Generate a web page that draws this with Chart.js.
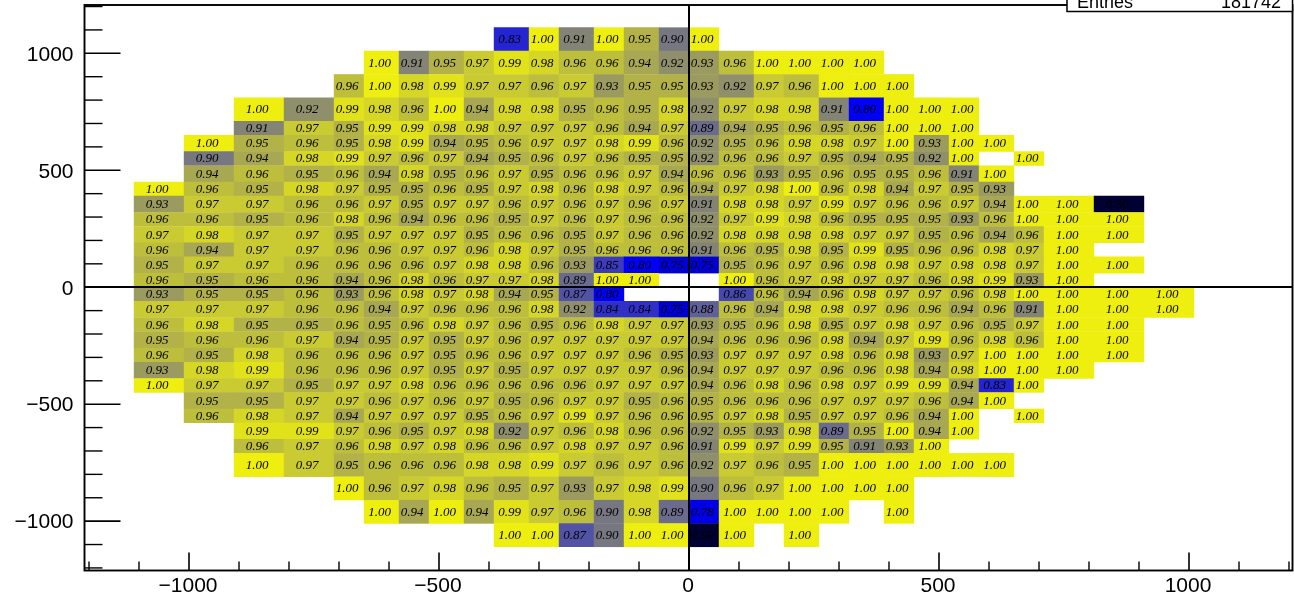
<!DOCTYPE html>
<html><head><meta charset="utf-8">
<style>html,body{margin:0;padding:0;background:#fff}canvas{display:block}</style>
<script src="https://cdn.jsdelivr.net/npm/chart.js@4/dist/chart.umd.min.js"></script>
</head><body><canvas id="c" width="1294" height="599"></canvas>
<script>
const xEdges=[-1110,-1010,-910,-810,-710,-650,-580,-520,-450,-390,-320,-260,-190,-130,-60,0,60,130,190,260,320,390,450,520,580,650,710,810,910,1010];
const yEdges=[1110,1010,910,810,710,650,580,520,450,390,320,260,190,130,60,0,-60,-130,-190,-260,-320,-390,-450,-520,-580,-650,-710,-810,-910,-1010,-1110];
const rowStart=[9,5,4,2,2,1,1,1,0,0,0,0,0,0,0,0,0,0,0,0,0,0,1,1,2,2,2,4,5,9];
const rowValues=[
[.83,1,.91,1,.95,.90,1],
[1,.91,.95,.97,.99,.98,.96,.96,.94,.92,.93,.96,1,1,1,1],
[.96,1,.98,.99,.97,.97,.96,.97,.93,.95,.95,.93,.92,.97,.96,1,1,1],
[1,.92,.99,.98,.96,1,.94,.98,.98,.95,.96,.95,.98,.92,.97,.98,.98,.91,.80,1,1,1],
[.91,.97,.95,.99,.99,.98,.98,.97,.97,.97,.96,.94,.97,.89,.94,.95,.96,.95,.96,1,1,1],
[1,.95,.96,.95,.98,.99,.94,.95,.96,.97,.97,.98,.99,.96,.92,.95,.96,.98,.98,.97,1,.93,1,1],
[.90,.94,.98,.99,.97,.96,.97,.94,.95,.96,.97,.96,.95,.95,.92,.96,.96,.97,.95,.94,.95,.92,1,null,1],
[.94,.96,.95,.96,.94,.98,.95,.96,.97,.95,.96,.96,.97,.94,.96,.96,.93,.95,.96,.95,.95,.96,.91,1],
[1,.96,.95,.98,.97,.95,.95,.96,.95,.97,.98,.96,.98,.97,.96,.94,.97,.98,1,.96,.98,.94,.97,.95,.93],
[.93,.97,.97,.96,.96,.97,.95,.97,.97,.96,.97,.96,.97,.96,.97,.91,.98,.98,.97,.99,.97,.96,.96,.97,.94,1,1,.50],
[.96,.96,.95,.96,.98,.96,.94,.96,.96,.95,.97,.96,.97,.96,.96,.92,.97,.99,.98,.96,.95,.95,.95,.93,.96,1,1,1],
[.97,.98,.97,.97,.95,.97,.97,.97,.95,.96,.96,.95,.97,.96,.96,.92,.98,.98,.98,.98,.97,.97,.95,.96,.94,.96,1,1],
[.96,.94,.97,.97,.96,.96,.97,.97,.96,.98,.97,.95,.96,.96,.96,.91,.96,.95,.98,.95,.99,.95,.96,.96,.98,.97,1],
[.95,.97,.97,.96,.96,.96,.96,.97,.98,.98,.96,.93,.85,.80,.75,.75,.95,.96,.97,.96,.98,.98,.97,.98,.98,.97,1,1],
[.96,.95,.96,.96,.94,.96,.98,.96,.97,.97,.98,.89,1,1,null,null,1,.96,.97,.98,.97,.97,.96,.98,.99,.93,1],
[.93,.95,.95,.96,.93,.96,.98,.97,.98,.94,.95,.87,.80,null,null,null,.86,.96,.94,.96,.98,.97,.97,.96,.98,1,1,1,1],
[.97,.97,.97,.96,.96,.94,.97,.96,.96,.96,.98,.92,.84,.84,.75,.88,.96,.94,.98,.98,.97,.96,.96,.94,.96,.91,1,1,1],
[.96,.98,.95,.95,.96,.95,.96,.98,.97,.96,.95,.96,.98,.97,.97,.93,.95,.96,.98,.95,.97,.98,.97,.96,.95,.97,1,1],
[.95,.96,.96,.97,.94,.95,.97,.95,.97,.96,.97,.97,.97,.97,.97,.94,.96,.96,.96,.98,.94,.97,.99,.96,.98,.96,1,1],
[.96,.95,.98,.96,.96,.96,.97,.95,.96,.96,.97,.97,.97,.96,.95,.93,.97,.97,.97,.98,.96,.98,.93,.97,1,1,1,1],
[.93,.98,.99,.96,.96,.96,.97,.95,.97,.95,.97,.97,.97,.97,.96,.94,.97,.97,.97,.96,.96,.98,.94,.98,1,1,1],
[1,.97,.97,.95,.97,.97,.98,.96,.96,.96,.96,.96,.97,.97,.97,.94,.96,.98,.96,.98,.97,.99,.99,.94,.83,1],
[.95,.95,.97,.97,.96,.97,.96,.97,.95,.96,.97,.97,.95,.96,.95,.96,.96,.96,.97,.97,.97,.96,.94,1],
[.96,.98,.97,.94,.97,.97,.97,.95,.96,.97,.99,.97,.96,.96,.95,.97,.98,.95,.97,.97,.96,.94,1,null,1],
[.99,.99,.97,.96,.95,.97,.98,.92,.97,.96,.98,.96,.96,.92,.95,.93,.98,.89,.95,1,.94,1],
[.96,.97,.96,.98,.97,.98,.96,.96,.97,.98,.97,.97,.96,.91,.99,.97,.99,.95,.91,.93,1],
[1,.97,.95,.96,.96,.96,.98,.98,.99,.97,.96,.97,.96,.92,.97,.96,.95,1,1,1,1,1,1],
[1,.96,.97,.98,.96,.95,.97,.93,.97,.98,.99,.90,.96,.97,1,1,1,1],
[1,.94,1,.94,.99,.97,.96,.90,.98,.89,.78,1,1,1,1,null,1],
[1,1,.87,.90,1,1,.50,1,null,1]
];
const paletteStops=[0.5,0.8,1.0];
const paletteColors=[[0,0,50],[0,0,245],[238,238,15]];
const majorTicks=[-1000,-500,0,500,1000];
const statsLabel="Entries", statsValue="181742";

function colourFor(v){
  let i=v<paletteStops[1]?0:1;
  const t=(v-paletteStops[i])/(paletteStops[i+1]-paletteStops[i]);
  const c=paletteColors[i].map((a,k)=>Math.round(a+(paletteColors[i+1][k]-a)*t));
  return `rgb(${c[0]},${c[1]},${c[2]})`;
}
const cells=[];
rowValues.forEach((row,r)=>row.forEach((v,k)=>{
  if(v===null) return;
  const c=rowStart[r]+k;
  cells.push({x0:xEdges[c],x1:xEdges[c+1],y0:yEdges[r+1],y1:yEdges[r],x:(xEdges[c]+xEdges[c+1])/2,y:(yEdges[r]+yEdges[r+1])/2,v});
}));

class CellController extends Chart.DatasetController{
  update(mode){const m=this._cachedMeta;this.updateElements(m.data,0,m.data.length,mode);}
  updateElements(els,start,count,mode){
    const {xScale,yScale}=this._cachedMeta,data=this.getDataset().data;
    for(let i=start;i<start+count;i++){
      const c=data[i],l=xScale.getPixelForValue(c.x0),r=xScale.getPixelForValue(c.x1),
            t=yScale.getPixelForValue(c.y1),b=yScale.getPixelForValue(c.y0);
      this.updateElement(els[i],i,{x:(l+r)/2,y:t,base:b,width:r-l,height:b-t,horizontal:false,inflateAmount:0.2,
        borderSkipped:{top:false,left:false,bottom:false,right:false},
        options:this.resolveDataElementOptions(i,mode)},mode);
    }
  }
  draw(){const m=this._cachedMeta;m.data.forEach(e=>e.draw(this._ctx));}
}
CellController.id='cell';
CellController.defaults={dataElementType:'bar'};
Chart.register(CellController);

const cellText={id:'cellText',afterDatasetsDraw(chart){
  const ctx=chart.ctx,meta=chart.getDatasetMeta(0);
  ctx.save();ctx.font='italic 13px "Liberation Serif"';ctx.fillStyle='#000';ctx.textAlign='center';ctx.textBaseline='middle';
  meta.data.forEach((e,i)=>ctx.fillText(cells[i].v.toFixed(2),e.x-2,(e.y+e.base)/2+0.5));
  ctx.restore();
}};
const frame={id:'frame',afterDraw(chart){
  const ctx=chart.ctx,a=chart.chartArea,{x,y}=chart.scales;
  ctx.save();ctx.strokeStyle='#000';
  const line=(x1,y1,x2,y2,w)=>{ctx.lineWidth=w;ctx.beginPath();ctx.moveTo(x1,y1);ctx.lineTo(x2,y2);ctx.stroke();};
  x.ticks.forEach(t=>{const p=x.getPixelForValue(t.value),maj=majorTicks.includes(t.value);
    line(p,a.bottom,p,a.bottom-(maj?18:9),maj?1.6:1.4);});
  y.ticks.forEach(t=>{const p=y.getPixelForValue(t.value),maj=majorTicks.includes(t.value);
    line(a.left,p,a.left+(maj?36:18),p,maj?1.6:1.4);});
  ctx.lineWidth=1.9;ctx.strokeRect(a.left,a.top,a.right-a.left,a.bottom-a.top);
  ctx.fillStyle='#fff';ctx.fillRect(1067,-2,226,13.5);
  ctx.lineWidth=1.5;ctx.strokeRect(1067,-2,225.5,13.5);
  ctx.fillStyle='#000';ctx.font='18px "Liberation Sans"';ctx.textBaseline='alphabetic';
  ctx.textAlign='left';ctx.fillText(statsLabel,1077,8);
  ctx.textAlign='right';ctx.fillText(statsValue,1281,8);
  ctx.restore();
}};
const zeroPad=s=>{s.paddingTop=0;s.paddingBottom=0;s.paddingLeft=0;s.paddingRight=0;};
const axis=(min,max,fit,padding,labelOffset)=>({
  type:'linear',min,max,afterFit:s=>{fit(s);zeroPad(s);},
  grid:{z:1,drawTicks:false,color:c=>c.tick&&c.tick.value===0?'#000':'rgba(0,0,0,0)',lineWidth:c=>c.tick&&c.tick.value===0?2:0},
  border:{display:false},
  ticks:{stepSize:100,includeBounds:false,autoSkip:false,maxRotation:0,minRotation:0,padding,labelOffset,color:'#000',
    font:{family:'"Liberation Sans"',size:21},
    callback:v=>majorTicks.includes(v)?String(v).replace('-','\u2212'):''}
});
new Chart(document.getElementById('c'),{
  type:'cell',
  data:{datasets:[{label:'efficiency',data:cells,backgroundColor:c=>c.raw?colourFor(c.raw.v):'#fff',borderWidth:0}]},
  options:{responsive:false,animation:false,devicePixelRatio:1,events:[],
    layout:{padding:{top:5,right:1.5,left:0,bottom:0}},
    plugins:{legend:{display:false},tooltip:{enabled:false},title:{display:false}},
    scales:{
      x:axis(-1209,1207,s=>{s.height=28.5;},3,-1),
      y:axis(-1211,1206.5,s=>{s.width=84.5;},11,1.5)
    }
  },
  plugins:[cellText,frame]
});
</script></body></html>
